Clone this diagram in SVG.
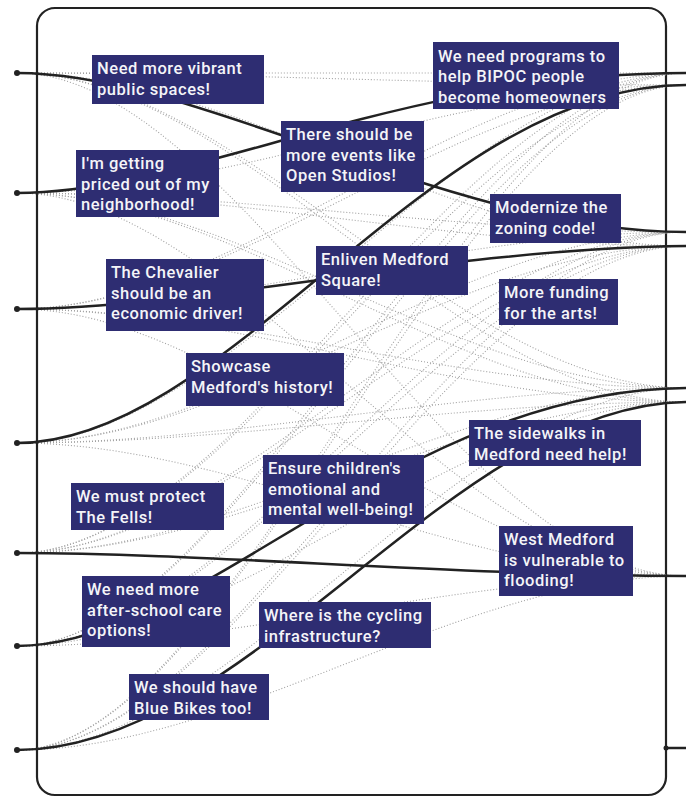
<svg xmlns="http://www.w3.org/2000/svg" width="686" height="797" viewBox="0 0 686 797">
<style>
.d{fill:none;stroke:#a0a0a0;stroke-width:1.1;stroke-dasharray:1 2}
.s{fill:none;stroke:#222;stroke-width:2.5}
.box{fill:#2e2d72}
.t{font-family:Roboto,"Liberation Sans",Arial,sans-serif;font-weight:500;font-size:16.5px;letter-spacing:0.55px;fill:#f4f4f8}
.dot{fill:#222}
</style>
<rect x="0" y="0" width="686" height="797" fill="#fff"/>
<rect x="37" y="8" width="629" height="787" rx="18" fill="none" stroke="#222" stroke-width="2.2"/>
<g id="connectors">
<g id="dotted">
<path class="d" d="M17,73 C237,73 456,73 686,73"/>
<path class="d" d="M17,73 C237,73 456,85 686,85"/>
<path class="d" d="M17,73 C237,73 456,246 686,246"/>
<path class="d" d="M17,73 C237,73 456,388 686,388"/>
<path class="d" d="M17,73 C237,73 456,402 686,402"/>
<path class="d" d="M17,73 C237,73 456,576 686,576"/>
<path class="d" d="M17,193 C237,193 456,85 686,85"/>
<path class="d" d="M17,193 C237,193 456,232 686,232"/>
<path class="d" d="M17,193 C237,193 456,246 686,246"/>
<path class="d" d="M17,193 C237,193 456,388 686,388"/>
<path class="d" d="M17,193 C237,193 456,402 686,402"/>
<path class="d" d="M17,193 C237,193 456,576 686,576"/>
<path class="d" d="M17,309 C237,309 456,73 686,73"/>
<path class="d" d="M17,309 C237,309 456,85 686,85"/>
<path class="d" d="M17,309 C237,309 456,232 686,232"/>
<path class="d" d="M17,309 C237,309 456,388 686,388"/>
<path class="d" d="M17,309 C237,309 456,402 686,402"/>
<path class="d" d="M17,309 C237,309 456,576 686,576"/>
<path class="d" d="M17,443 C237,443 456,73 686,73"/>
<path class="d" d="M17,443 C237,443 456,232 686,232"/>
<path class="d" d="M17,443 C237,443 456,246 686,246"/>
<path class="d" d="M17,443 C237,443 456,388 686,388"/>
<path class="d" d="M17,443 C237,443 456,402 686,402"/>
<path class="d" d="M17,443 C237,443 456,576 686,576"/>
<path class="d" d="M17,553 C237,553 456,73 686,73"/>
<path class="d" d="M17,553 C237,553 456,85 686,85"/>
<path class="d" d="M17,553 C237,553 456,232 686,232"/>
<path class="d" d="M17,553 C237,553 456,246 686,246"/>
<path class="d" d="M17,553 C237,553 456,388 686,388"/>
<path class="d" d="M17,553 C237,553 456,402 686,402"/>
<path class="d" d="M17,646 C237,646 456,73 686,73"/>
<path class="d" d="M17,646 C237,646 456,85 686,85"/>
<path class="d" d="M17,646 C237,646 456,232 686,232"/>
<path class="d" d="M17,646 C237,646 456,246 686,246"/>
<path class="d" d="M17,646 C237,646 456,402 686,402"/>
<path class="d" d="M17,646 C237,646 456,576 686,576"/>
<path class="d" d="M17,750 C237,750 456,73 686,73"/>
<path class="d" d="M17,750 C237,750 456,85 686,85"/>
<path class="d" d="M17,750 C237,750 456,232 686,232"/>
<path class="d" d="M17,750 C237,750 456,246 686,246"/>
<path class="d" d="M17,750 C237,750 456,388 686,388"/>
<path class="d" d="M17,750 C237,750 456,576 686,576"/>
</g>
<g id="solid">
<path class="s" d="M17,73 C200,73 450,232 686,232"/>
<path class="s" d="M17,193 C190,193 400,73 686,73"/>
<path class="s" d="M17,309 C200,309 450,248 686,246"/>
<path class="s" d="M17,443 C230,443 430,85 686,85"/>
<path class="s" d="M17,553 C200,553 450,575 686,576"/>
<path class="s" d="M17,646 C200,646 400,390 686,388"/>
<path class="s" d="M17,750 C250,750 450,405 686,402"/>
<path class="s" d="M666,748 L686,748"/>
</g>
<g id="ends">
<circle class="dot" cx="17" cy="73" r="3"/>
<circle class="dot" cx="17" cy="193" r="3"/>
<circle class="dot" cx="17" cy="309" r="3"/>
<circle class="dot" cx="17" cy="443" r="3"/>
<circle class="dot" cx="17" cy="553" r="3"/>
<circle class="dot" cx="17" cy="646" r="3"/>
<circle class="dot" cx="17" cy="750" r="3"/>
<circle class="dot" cx="666" cy="748" r="2.5"/>
</g>
</g>
<g id="n-vibrant"><rect class="box" x="92" y="55" width="172" height="49"/><text class="t" x="97" y="74">Need more vibrant</text><text class="t" x="97" y="94.5">public spaces!</text></g>
<g id="n-priced"><rect class="box" x="76" y="150" width="143" height="67"/><text class="t" x="81" y="169">I'm getting</text><text class="t" x="81" y="189.5">priced out of my</text><text class="t" x="81" y="210">neighborhood!</text></g>
<g id="n-events"><rect class="box" x="281" y="121" width="143" height="71"/><text class="t" x="286" y="140">There should be</text><text class="t" x="286" y="160.5">more events like</text><text class="t" x="286" y="181">Open Studios!</text></g>
<g id="n-programs"><rect class="box" x="433" y="42" width="186" height="67"/><text class="t" x="438" y="61.5">We need programs to</text><text class="t" x="438" y="82">help BIPOC people</text><text class="t" x="438" y="102.5">become homeowners</text></g>
<g id="n-zoning"><rect class="box" x="490" y="194" width="131" height="49"/><text class="t" x="495" y="213">Modernize the</text><text class="t" x="495" y="233.5">zoning code!</text></g>
<g id="n-enliven"><rect class="box" x="316" y="246" width="152" height="49"/><text class="t" x="321" y="265">Enliven Medford</text><text class="t" x="321" y="285.5">Square!</text></g>
<g id="n-chevalier"><rect class="box" x="106" y="259" width="158" height="72"/><text class="t" x="111" y="278">The Chevalier</text><text class="t" x="111" y="298.5">should be an</text><text class="t" x="111" y="319">economic driver!</text></g>
<g id="n-arts"><rect class="box" x="499" y="279" width="119" height="46"/><text class="t" x="504" y="298">More funding</text><text class="t" x="504" y="318.5">for the arts!</text></g>
<g id="n-history"><rect class="box" x="186" y="353" width="158" height="53"/><text class="t" x="191" y="372">Showcase</text><text class="t" x="191" y="392.5">Medford's history!</text></g>
<g id="n-sidewalks"><rect class="box" x="469" y="420" width="172" height="46"/><text class="t" x="474" y="439">The sidewalks in</text><text class="t" x="474" y="459.5">Medford need help!</text></g>
<g id="n-children"><rect class="box" x="263" y="455" width="161" height="69"/><text class="t" x="268" y="474">Ensure children's</text><text class="t" x="268" y="494.5">emotional and</text><text class="t" x="268" y="515">mental well-being!</text></g>
<g id="n-fells"><rect class="box" x="71" y="483" width="153" height="47"/><text class="t" x="76" y="502">We must protect</text><text class="t" x="76" y="522.5">The Fells!</text></g>
<g id="n-flooding"><rect class="box" x="499" y="526" width="134" height="70"/><text class="t" x="504" y="545">West Medford</text><text class="t" x="504" y="565.5">is vulnerable to</text><text class="t" x="504" y="586">flooding!</text></g>
<g id="n-afterschool"><rect class="box" x="82" y="576" width="148" height="71"/><text class="t" x="87" y="595">We need more</text><text class="t" x="87" y="615.5">after-school care</text><text class="t" x="87" y="636">options!</text></g>
<g id="n-cycling"><rect class="box" x="259" y="602" width="172" height="46"/><text class="t" x="264" y="621">Where is the cycling</text><text class="t" x="264" y="641.5">infrastructure?</text></g>
<g id="n-bluebikes"><rect class="box" x="129" y="674" width="140" height="46"/><text class="t" x="134" y="693">We should have</text><text class="t" x="134" y="713.5">Blue Bikes too!</text></g>
</svg>
